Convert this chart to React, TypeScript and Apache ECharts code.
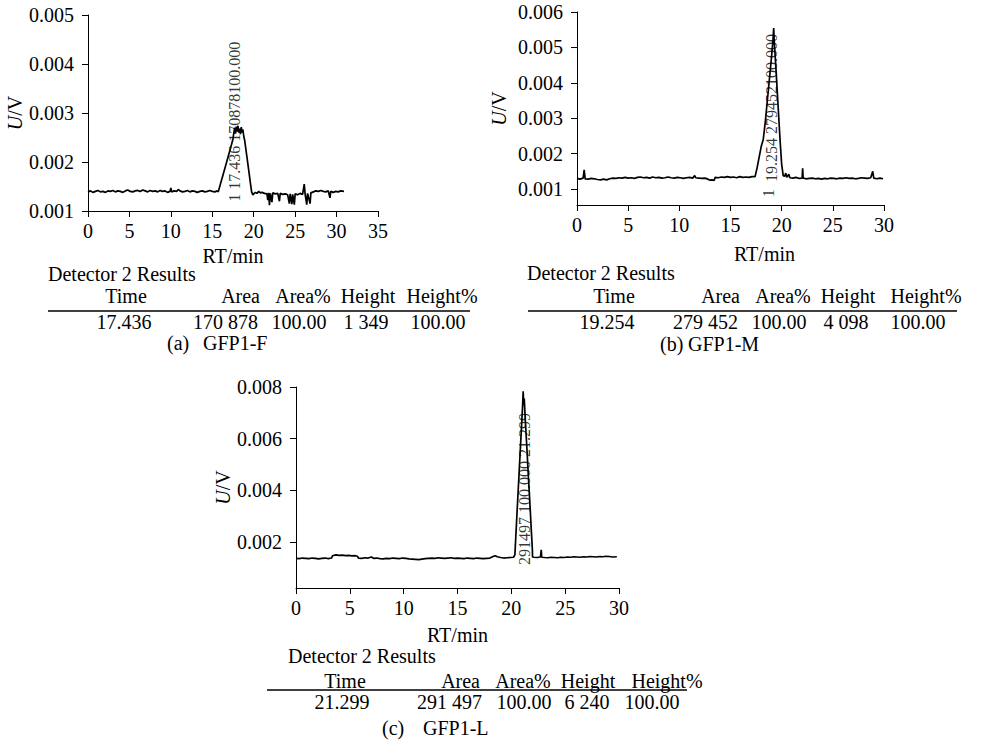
import React, { useEffect, useRef } from 'react';
import * as echarts from 'echarts';

// ---------- data (t in min, signal in mV; axis labels show volts) ----------
const traceA: [number, number][] = [
  [0, 1.39], [0.3, 1.41], [0.6, 1.38], [0.9, 1.4], [1.2, 1.42], [1.5, 1.39], [1.8, 1.4], [2.1, 1.38], [2.4, 1.41], [2.7, 1.4],
  [3.0, 1.42], [3.3, 1.39], [3.6, 1.41], [3.9, 1.4], [4.2, 1.38], [4.5, 1.41], [4.8, 1.43], [5.1, 1.4], [5.4, 1.39], [5.7, 1.41],
  [6.0, 1.42], [6.3, 1.4], [6.6, 1.43], [6.9, 1.41], [7.2, 1.39], [7.5, 1.42], [7.8, 1.4], [8.1, 1.41], [8.4, 1.39], [8.7, 1.42],
  [9.0, 1.4], [9.3, 1.41], [9.6, 1.38], [9.9, 1.4], [10.0, 1.47], [10.1, 1.39], [10.4, 1.41], [10.7, 1.4], [10.9, 1.44], [11.1, 1.41],
  [11.4, 1.39], [11.7, 1.4], [12.0, 1.42], [12.3, 1.39], [12.6, 1.41], [12.9, 1.4], [13.2, 1.38], [13.5, 1.4], [13.8, 1.41], [14.1, 1.39],
  [14.4, 1.4], [14.7, 1.42], [15.0, 1.4], [15.3, 1.39], [15.6, 1.41], [15.72, 1.39],
  [16.0, 1.56], [16.3, 1.74], [16.6, 1.92], [16.9, 2.1], [17.2, 2.28], [17.5, 2.47], [17.6, 2.6], [17.7, 2.7], [17.8, 2.58], [17.9, 2.72],
  [18.0, 2.62], [18.1, 2.74], [18.2, 2.6], [18.3, 2.68], [18.4, 2.57], [18.5, 2.71], [18.6, 2.6], [18.7, 2.66], [18.8, 2.52], [18.9, 2.45],
  [19.0, 2.33], [19.2, 2.08], [19.4, 1.83], [19.6, 1.57], [19.75, 1.39], [19.9, 1.33], [20.0, 1.35], [20.2, 1.38], [20.4, 1.36], [20.6, 1.4],
  [20.8, 1.37], [21.0, 1.38], [21.3, 1.36], [21.6, 1.35], [21.7, 1.22], [21.8, 1.37], [21.9, 1.12], [22.0, 1.36], [22.2, 1.18], [22.3, 1.37],
  [22.6, 1.35], [22.9, 1.36], [23.1, 1.2], [23.2, 1.36], [23.5, 1.34], [23.8, 1.35], [24.1, 1.33], [24.3, 1.15], [24.4, 1.35], [24.6, 1.14],
  [24.7, 1.34], [24.9, 1.13], [25.0, 1.35], [25.3, 1.33], [25.6, 1.36], [25.9, 1.34], [26.1, 1.55], [26.2, 1.35], [26.4, 1.13], [26.5, 1.36],
  [26.8, 1.15], [26.9, 1.37], [27.2, 1.39], [27.5, 1.41], [27.8, 1.4], [28.1, 1.42], [28.4, 1.4], [28.7, 1.39], [29.0, 1.41], [29.2, 1.27],
  [29.3, 1.4], [29.6, 1.38], [29.9, 1.4], [30.2, 1.39], [30.5, 1.41], [30.9, 1.4],
];

const traceB: [number, number][] = [
  [0, 1.3], [0.3, 1.28], [0.6, 1.31], [0.7, 1.54], [0.8, 1.29], [1.1, 1.28], [1.4, 1.3], [1.7, 1.29], [2.0, 1.27], [2.3, 1.26],
  [2.6, 1.28], [2.9, 1.26], [3.2, 1.29], [3.5, 1.31], [3.8, 1.3], [4.1, 1.32], [4.4, 1.31], [4.7, 1.33], [5.0, 1.31], [5.3, 1.32],
  [5.6, 1.3], [5.9, 1.33], [6.2, 1.34], [6.5, 1.32], [6.8, 1.33], [7.1, 1.31], [7.4, 1.34], [7.7, 1.32], [8.0, 1.33], [8.3, 1.31],
  [8.6, 1.32], [8.9, 1.34], [9.2, 1.32], [9.5, 1.31], [9.8, 1.33], [10.1, 1.32], [10.4, 1.3], [10.7, 1.32], [11.0, 1.33], [11.3, 1.31],
  [11.5, 1.38], [11.6, 1.32], [11.9, 1.31], [12.2, 1.3], [12.5, 1.31], [12.8, 1.28], [13.0, 1.25], [13.2, 1.26], [13.4, 1.24], [13.5, 1.33],
  [13.8, 1.32], [14.1, 1.34], [14.4, 1.33], [14.7, 1.35], [15.0, 1.33], [15.3, 1.34], [15.6, 1.32], [15.9, 1.35], [16.2, 1.33], [16.5, 1.34],
  [16.8, 1.33], [17.1, 1.35], [17.4, 1.35],
  [17.6, 1.6], [17.8, 1.9], [18.0, 2.2], [18.2, 2.4], [18.4, 2.9], [18.6, 3.5], [18.8, 4.1], [19.0, 4.7], [19.15, 5.2], [19.22, 5.55],
  [19.28, 5.15], [19.4, 4.6], [19.55, 3.85], [19.7, 3.1], [19.85, 2.35], [20.0, 1.7], [20.15, 1.38],
  [20.3, 1.36], [20.4, 1.45], [20.5, 1.33], [20.7, 1.42], [20.8, 1.32], [21.1, 1.31], [21.4, 1.33], [21.7, 1.3], [22.0, 1.31], [22.05, 1.59],
  [22.1, 1.31], [22.4, 1.29], [22.7, 1.3], [23.0, 1.31], [23.3, 1.29], [23.6, 1.3], [23.9, 1.28], [24.2, 1.3], [24.5, 1.29], [24.8, 1.31],
  [25.1, 1.3], [25.4, 1.29], [25.7, 1.31], [26.0, 1.3], [26.3, 1.32], [26.6, 1.3], [26.9, 1.31], [27.2, 1.29], [27.5, 1.3], [27.8, 1.32],
  [28.1, 1.31], [28.4, 1.3], [28.7, 1.32], [28.9, 1.5], [29.0, 1.31], [29.3, 1.29], [29.6, 1.31], [29.9, 1.29],
];

const traceC: [number, number][] = [
  [0, 1.37], [0.3, 1.36], [0.6, 1.38], [0.9, 1.37], [1.2, 1.36], [1.5, 1.38], [1.8, 1.37], [2.1, 1.35], [2.4, 1.37], [2.7, 1.38],
  [3.0, 1.36], [3.3, 1.38], [3.4, 1.47], [3.7, 1.5], [4.0, 1.48], [4.3, 1.49], [4.6, 1.47], [4.9, 1.48], [5.2, 1.46], [5.5, 1.47],
  [5.7, 1.45], [5.8, 1.38], [6.1, 1.37], [6.4, 1.39], [6.7, 1.38], [7.0, 1.42], [7.2, 1.37], [7.5, 1.38], [7.8, 1.36], [8.1, 1.35],
  [8.4, 1.37], [8.7, 1.36], [9.0, 1.38], [9.3, 1.37], [9.6, 1.36], [9.9, 1.38], [10.2, 1.37], [10.5, 1.35], [10.8, 1.34], [11.1, 1.33],
  [11.4, 1.32], [11.7, 1.34], [12.0, 1.36], [12.3, 1.37], [12.6, 1.38], [12.9, 1.37], [13.2, 1.39], [13.5, 1.38], [13.8, 1.37], [14.1, 1.38],
  [14.4, 1.39], [14.7, 1.37], [15.0, 1.38], [15.3, 1.37], [15.6, 1.36], [15.9, 1.38], [16.2, 1.37], [16.5, 1.36], [16.8, 1.38], [17.1, 1.37],
  [17.4, 1.36], [17.7, 1.37], [18.0, 1.38], [18.3, 1.44], [18.5, 1.47], [18.7, 1.43], [19.0, 1.4], [19.3, 1.38], [19.6, 1.39], [19.9, 1.4],
  [20.2, 1.41], [20.33, 1.5],
  [20.5, 2.9], [20.65, 4.1], [20.8, 5.3], [20.95, 6.5], [21.05, 7.3], [21.1, 7.83], [21.15, 7.3], [21.2, 7.55], [21.3, 6.7], [21.45, 5.6],
  [21.6, 4.4], [21.75, 3.3], [21.85, 2.5], [21.95, 1.75], [21.97, 1.42],
  [22.1, 1.41], [22.4, 1.4], [22.7, 1.42], [22.78, 1.7], [22.82, 1.41], [23.1, 1.4], [23.4, 1.39], [23.7, 1.41], [24.0, 1.4], [24.3, 1.39],
  [24.6, 1.41], [24.9, 1.4], [25.2, 1.42], [25.5, 1.41], [25.8, 1.43], [26.1, 1.42], [26.4, 1.41], [26.7, 1.43], [27.0, 1.42], [27.3, 1.44],
  [27.6, 1.43], [27.9, 1.42], [28.2, 1.44], [28.5, 1.43], [28.8, 1.45], [29.1, 1.44], [29.4, 1.42], [29.8, 1.43],
];

// peak annotation texts, anchored at [t, mV]
const peakLabelsA: { at: [number, number]; text: string }[] = [
  { at: [17.7, 2.82], text: '1 17.436 170878100.000' },
];
const peakLabelsB: { at: [number, number]; text: string }[] = [
  { at: [19.0, 3.29], text: '19.254 279452100.000' },
  { at: [18.7, 0.88], text: '1' },
];
const peakLabelsC: { at: [number, number]; text: string }[] = [
  { at: [21.2, 4.05], text: '291497 100.000 21.299' },
];

// y tick values (mV)
const yTicksB = [1, 2, 3, 4, 5, 6];
const yTicksC = [2, 4, 6, 8];

// results tables
const tableTitle = 'Detector 2 Results';
const tableHeaders = ['Time', 'Area', 'Area%', 'Height', 'Height%'];
const resultsA = ['17.436', '170 878', '100.00', '1 349', '100.00'];
const resultsB = ['19.254', '279 452', '100.00', '4 098', '100.00'];
const resultsC = ['21.299', '291 497', '100.00', '6 240', '100.00'];
const captionTags = ['(a)', '(b)', '(c)'];
const captionNames = ['GFP1-F', 'GFP1-M', 'GFP1-L'];

// ---------- styling / layout ----------
const SERIF = '"Liberation Serif", "Times New Roman", serif';
const INK = '#000';

type TableLayout = {
  titleX: number; titleY: number;
  headY: number; headX: number[];
  lineX1: number; lineX2: number; lineY: number;
  rowY: number; rowX: number[];
  capY: number; capTagX: number; capNameX: number;
};
const colAlign = ['center', 'right', 'center', 'center', 'center'];

const layouts: TableLayout[] = [
  { titleX: 48, titleY: 274, headY: 296, headX: [126, 260, 303, 368, 442], lineX1: 48, lineX2: 470, lineY: 311,
    rowY: 322, rowX: [124, 258, 299, 366, 438], capY: 343, capTagX: 167, capNameX: 203 },
  { titleX: 527, titleY: 273, headY: 296, headX: [614, 740, 783, 848, 926], lineX1: 528, lineX2: 957, lineY: 311,
    rowY: 322, rowX: [607, 738, 779, 846, 918], capY: 344, capTagX: 660, capNameX: 688 },
  { titleX: 288, titleY: 656, headY: 681, headX: [345, 480, 523, 588, 667], lineX1: 267, lineX2: 687, lineY: 690,
    rowY: 702, rowX: [342, 482, 524, 587, 652], capY: 728, capTagX: 382, capNameX: 423 },
];

function txt(text: string, x: number, y: number, align: string) {
  return {
    type: 'text', x, y, silent: true,
    style: { text, font: `20px ${SERIF}`, fill: INK, align, verticalAlign: 'middle', lineHeight: 16 },
  };
}

function buildTable(i: number, rows: string[]) {
  const L = layouts[i];
  const els: any[] = [];
  els.push(txt(tableTitle, L.titleX, L.titleY, 'left'));
  tableHeaders.forEach((h, k) => els.push(txt(h, L.headX[k], L.headY, colAlign[k])));
  els.push({ type: 'line', silent: true, shape: { x1: L.lineX1, y1: L.lineY, x2: L.lineX2, y2: L.lineY }, style: { stroke: INK, lineWidth: 1.5 } });
  rows.forEach((v, k) => els.push(txt(v, L.rowX[k], L.rowY, colAlign[k])));
  els.push(txt(captionTags[i], L.capTagX, L.capY, 'left'));
  els.push(txt(captionNames[i], L.capNameX, L.capY, 'left'));
  return els;
}

const axisLineStyle = { show: true, lineStyle: { color: INK, width: 1 } };
const axisTickStyle = { show: true, length: 6, lineStyle: { color: INK, width: 1 } };
const fmtV = (v: number) => (v / 1000).toFixed(3);

function xAxis(grid: number, max: number, nameGap: number, namePad: number) {
  return {
    type: 'value', gridIndex: grid, min: 0, max, interval: 5,
    name: 'RT/min', nameLocation: 'middle', nameGap,
    nameTextStyle: { color: INK, fontFamily: SERIF, fontSize: 20, padding: [0, 0, 0, namePad] },
    axisLine: axisLineStyle, axisTick: axisTickStyle,
    axisLabel: { color: INK, fontFamily: SERIF, fontSize: 20, margin: 10 },
    splitLine: { show: false },
  };
}

function yAxis(grid: number, min: number, max: number, nameGap: number, ticks?: number[]) {
  const base: any = {
    type: 'value', gridIndex: grid, min, max,
    name: '{i|U}/V', nameLocation: 'middle', nameGap,
    nameTextStyle: {
      color: INK, fontFamily: SERIF, fontSize: 20,
      rich: { i: { fontStyle: 'italic', fontFamily: SERIF, fontSize: 20, color: INK } },
    },
    axisLine: axisLineStyle,
    axisTick: { ...axisTickStyle },
    axisLabel: { color: INK, fontFamily: SERIF, fontSize: 20, margin: 14, formatter: fmtV },
    splitLine: { show: false },
  };
  if (ticks) {
    base.axisLabel.customValues = ticks;
    base.axisTick.customValues = ticks;
  } else {
    base.interval = 1;
  }
  return base;
}

function traceSeries(idx: number, data: [number, number][]) {
  return {
    type: 'line', xAxisIndex: idx, yAxisIndex: idx, data,
    symbol: 'none', showSymbol: false, silent: true, color: INK,
    lineStyle: { color: INK, width: 1.7 },
  };
}

function labelSeries(idx: number, labels: { at: [number, number]; text: string }[]) {
  return {
    type: 'scatter', xAxisIndex: idx, yAxisIndex: idx, silent: true, symbolSize: 0,
    color: INK,
    itemStyle: { color: INK },
    data: labels.map((l) => ({ value: l.at, name: l.text })),
    label: {
      show: true, position: 'inside', rotate: 90, formatter: (p: any) => p.name,
      color: INK, fontFamily: SERIF, fontSize: 16,
      textBorderWidth: 0, textBorderColor: 'transparent',
    },
    z: 5,
  };
}

const option: any = {
  animation: false,
  backgroundColor: '#fff',
  color: [INK],
  grid: [
    { left: 88, top: 15, width: 290, height: 196, outerBoundsMode: 'none' },
    { left: 577, top: 12, width: 307, height: 193, outerBoundsMode: 'none' },
    { left: 296, top: 387, width: 323, height: 201, outerBoundsMode: 'none' },
  ],
  xAxis: [xAxis(0, 35, 35, 0), xAxis(1, 30, 39, 68), xAxis(2, 30, 37, 0)],
  yAxis: [yAxis(0, 1, 5, 63), yAxis(1, 0.55, 6, 68, yTicksB), yAxis(2, 0.22, 8, 62, yTicksC)],
  series: [
    traceSeries(0, traceA), traceSeries(1, traceB), traceSeries(2, traceC),
    labelSeries(0, peakLabelsA), labelSeries(1, peakLabelsB), labelSeries(2, peakLabelsC),
  ],
  graphic: [...buildTable(0, resultsA), ...buildTable(1, resultsB), ...buildTable(2, resultsC)],
};

export default function App() {
  const ref = useRef<HTMLDivElement>(null);
  useEffect(() => {
    const chart = echarts.init(ref.current!, null, { renderer: 'svg' });
    chart.setOption(option);
    return () => chart.dispose();
  }, []);
  return (
    <div
      ref={ref}
      style={{ position: 'fixed', left: 0, top: 0, width: 983, height: 743, background: '#fff' }}
    />
  );
}
